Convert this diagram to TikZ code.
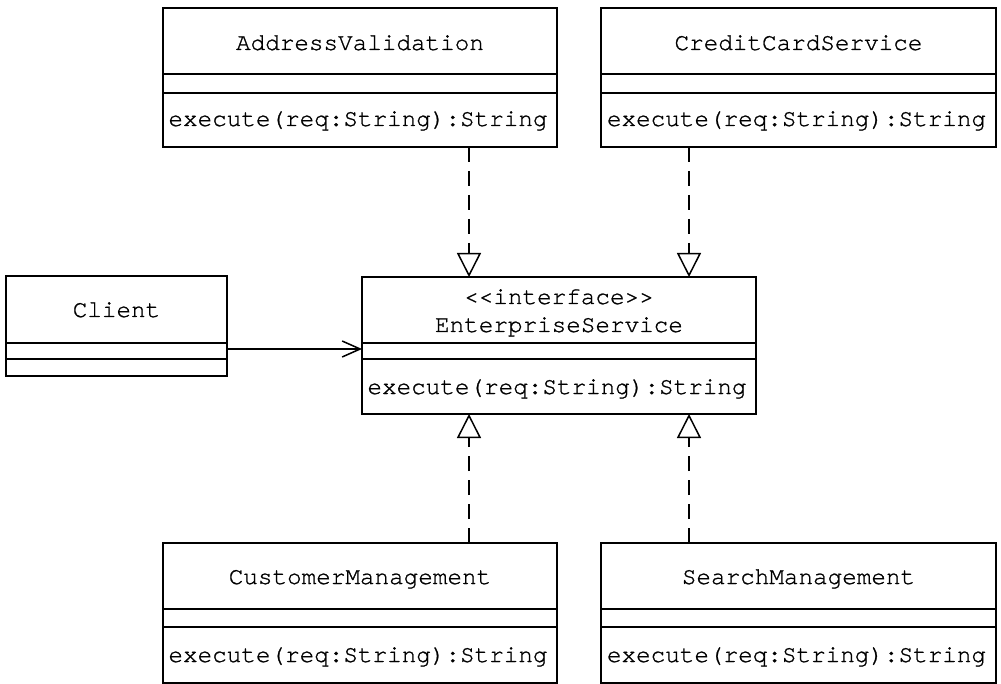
\documentclass[tikz,border=0pt]{standalone}
\usepackage{fontspec}
\setmonofont[FakeBold=1]{TeX Gyre Cursor}
\usetikzlibrary{arrows.meta}
\begin{document}
\begin{tikzpicture}[x=1pt,y=-1pt,line width=1.5pt,
  umlbox/.style={draw,rectangle,anchor=north west,inner sep=0pt,outer sep=0pt},
  lbl/.style={font=\fontsize{24.3}{28}\selectfont\ttfamily,inner sep=0pt,anchor=base},
  realize/.style={dash pattern=on 15pt off 9pt,-{Triangle[open,width=24pt,length=24pt]}},
  assoc/.style={-{Straight Barb[length=18pt,width=16pt]}}]
\useasboundingbox (0,0) rectangle (1001,684);
% boxes
\node[umlbox,minimum width=394pt,minimum height=139pt] (av) at (163,8) {};
\node[umlbox,minimum width=395pt,minimum height=139pt] (cc) at (601,8) {};
\node[umlbox,minimum width=221pt,minimum height=100pt] (cl) at (6,276) {};
\node[umlbox,minimum width=394pt,minimum height=137pt] (ent) at (362,277) {};
\node[umlbox,minimum width=394pt,minimum height=140pt] (cm) at (163,543) {};
\node[umlbox,minimum width=395pt,minimum height=140pt] (sm) at (601,543) {};
% dividers
\draw (av.north west) ++(0,66) -- ++(394,0) ++(-394,19) -- ++(394,0);
\draw (cc.north west) ++(0,66) -- ++(395,0) ++(-395,19) -- ++(395,0);
\draw (cl.north west) ++(0,67) -- ++(221,0) ++(-221,16) -- ++(221,0);
\draw (ent.north west) ++(0,66) -- ++(394,0) ++(-394,16) -- ++(394,0);
\draw (cm.north west) ++(0,66) -- ++(394,0) ++(-394,18) -- ++(394,0);
\draw (sm.north west) ++(0,66) -- ++(395,0) ++(-395,18) -- ++(395,0);
% texts
\node[lbl] (avt) at (360,50) {AddressValidation};
\node[lbl] (avm) at (358,126) {execute(req:String):String};
\node[lbl] (cct) at (798.5,50) {CreditCardService};
\node[lbl] (ccm) at (796.5,126) {execute(req:String):String};
\node[lbl] (clt) at (116.5,317) {Client};
\node[lbl] (ens) at (559,304) {<{}<interface>{}>};
\node[lbl] (ent2) at (559,332) {EnterpriseService};
\node[lbl] (enm) at (557,394) {execute(req:String):String};
\node[lbl] (cmt) at (360,584) {CustomerManagement};
\node[lbl] (cmm) at (358,662) {execute(req:String):String};
\node[lbl] (smt) at (798.5,584) {SearchManagement};
\node[lbl] (smm) at (796.5,662) {execute(req:String):String};
% connectors
\coordinate (xl) at (469,0);
\coordinate (xr) at (689,0);
\coordinate (ya) at (0,349);
\draw[realize] (av.south -| xl) -- (ent.north -| xl);
\draw[realize] (cc.south -| xr) -- (ent.north -| xr);
\draw[realize] (cm.north -| xl) -- (ent.south -| xl);
\draw[realize] (sm.north -| xr) -- (ent.south -| xr);
\draw[assoc] (cl.east |- ya) -- (ent.west |- ya);
\end{tikzpicture}
\end{document}
